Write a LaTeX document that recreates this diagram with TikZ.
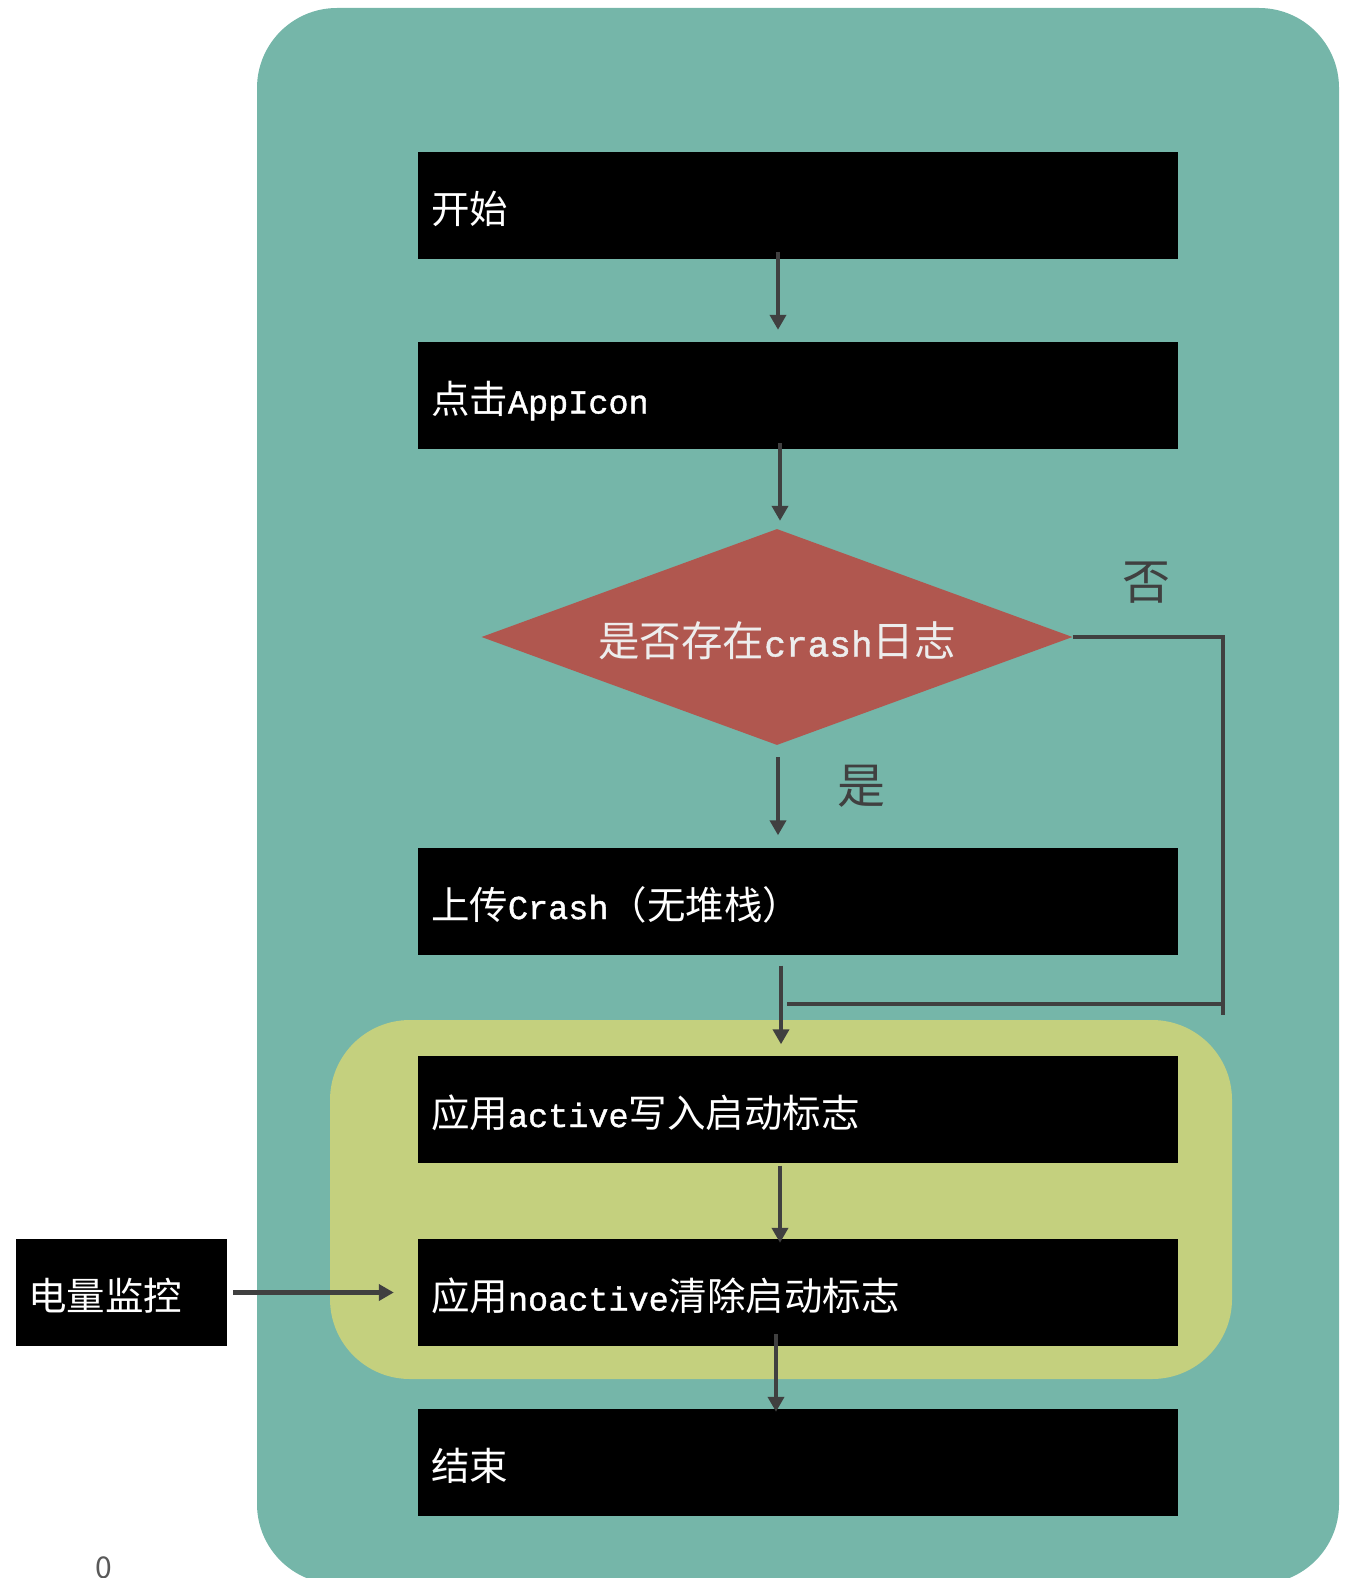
\documentclass[tikz,border=0pt]{standalone}
\usepackage{fontspec}
\setmainfont{Noto Sans CJK SC}
\newfontfamily\lat[Scale=0.87,FakeBold=1.2]{Liberation Mono}
\usetikzlibrary{shapes.geometric,arrows.meta}
\definecolor{teal1}{HTML}{75B6A9}
\definecolor{lime1}{HTML}{C4D07E}
\definecolor{red1}{HTML}{B0574F}
\definecolor{ink}{HTML}{404040}
\tikzset{
  boxnode/.style={fill=black, text=white, minimum width=760pt, minimum height=107pt,
    text width=734pt, inner xsep=13pt, align=left, text height=38pt, text depth=2pt,
    font=\fontsize{38.5}{46}\selectfont},
  arr/.style={draw=ink, line width=4.5pt, -{Triangle[width=16pt,length=15pt]}},
  plainline/.style={draw=ink, line width=4.5pt},
  lbl/.style={text=ink, font=\fontsize{48}{56}\selectfont}
}
\begin{document}
\begin{tikzpicture}[x=1pt,y=-1pt]
\useasboundingbox (0,0) rectangle (1354,1578);
\clip (0,0) rectangle (1354,1578);
% containers
\fill[teal1, rounded corners=80pt] (257,8) rectangle (1339,1584);
\fill[lime1, rounded corners=80pt] (330,1020) rectangle (1232,1379);
% nodes
\node[boxnode] (b1) at (798,205.5) {开始};
\node[boxnode] (b2) at (798,395.5) {点击{\lat AppIcon}};
\node[diamond, fill=red1, text=white!93!black, inner sep=0pt, aspect=2.74,
  minimum width=591pt, minimum height=216pt, text height=41pt, text depth=2pt,
  font=\fontsize{41.5}{48}\selectfont]
  (d) at (777,637) {是否存在{\lat crash}日志};
\node[boxnode] (b3) at (798,901) {上传{\lat Crash}（无堆栈）};
\node[boxnode] (b4) at (798,1109) {应用{\lat active}写入启动标志};
\node[boxnode] (b5) at (798,1292.5) {应用{\lat noactive}清除启动标志};
\node[boxnode] (b6) at (798,1462.5) {结束};
\node[fill=black, text=white, minimum width=211pt, minimum height=107pt,
  text width=187pt, inner xsep=12pt, align=left, text height=38pt, text depth=2pt,
  font=\fontsize{38.5}{46}\selectfont]
  (e) at (121.5,1292.5) {电量监控};
% labels
\node[lbl] (yes) at (861,786) {是};
\node[lbl] (no) at (1146,583) {否};
\node[text=black!65, font=\fontsize{30}{36}\selectfont, anchor=north, inner sep=0pt] (zero) at (104,1557) {0};
% connectors
\draw[arr] ([xshift=-20pt,yshift=7pt]b1.south) -- ([xshift=-20pt,yshift=12pt]b2.north);
\draw[arr] ([xshift=-18pt,yshift=6pt]b2.south) -- ([xshift=3pt,yshift=8pt]d.north);
\draw[arr] ([xshift=1pt,yshift=-12pt]d.south) -- ([xshift=-20pt,yshift=12pt]b3.north);
\draw[arr] ([xshift=-17pt,yshift=-11pt]b3.south) -- ([xshift=-17pt,yshift=11pt]b4.north);
\draw[arr] ([xshift=-18pt,yshift=-3pt]b4.south) -- ([xshift=-18pt,yshift=-4pt]b5.north);
\draw[arr] ([xshift=-22pt,yshift=12pt]b5.south) -- ([xshift=-22pt,yshift=-3pt]b6.north);
\draw[arr] ([xshift=6pt]e.east) -- ([xshift=-24pt]b5.west);
\coordinate (nc) at (1223,637);
\coordinate (nb) at (1223,1015);
\coordinate (mr) at (1223,1004);
\coordinate (ml) at (787,1004);
\draw[plainline] (d.east) -- (nc) -- (nb);
\draw[plainline] (mr) -- (ml);
\end{tikzpicture}
\end{document}
